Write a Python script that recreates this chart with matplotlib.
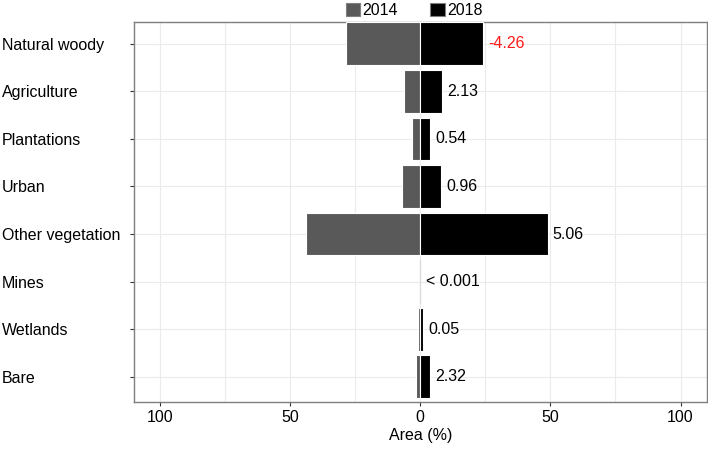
import numpy as np
import matplotlib.pyplot as plt

plt.rcParams['font.family'] = ['Liberation Sans', 'DejaVu Sans']

classes = ['Natural woody', 'Agriculture', 'Plantations', 'Urban',
           'Other vegetation', 'Mines', 'Wetlands', 'Bare']
area_2014 = [28.5, 6.2, 3.3, 7.1, 44.0, 0.1, 1.0, 1.6]
area_2018 = [24.2, 8.3, 3.7, 8.1, 48.9, 0.1, 1.05, 3.9]
change = ['-4.26', '2.13', '0.54', '0.96', '5.06', '< 0.001', '0.05', '2.32']
change_col = ['#ff1a1a', 'k', 'k', 'k', 'k', 'k', 'k', 'k']
xticks = [-100, -50, 0, 50, 100]
xticklabels = ['100', '50', '0', '50', '100']

fs = 11.5
fig = plt.figure(figsize=(7.08, 4.49), dpi=100)
ax = fig.add_axes([0.189, 0.105, 0.809, 0.846])

# tiny mines bars only show as a faint outline in the original
edges = ['#d9d9d9' if c == 'Mines' else 'white' for c in classes]

y = np.arange(len(classes))
ax.barh(y, -np.array(area_2014), height=0.9, color='#595959', edgecolor=edges,
        linewidth=0.8, label='2014', zorder=3)
ax.barh(y, area_2018, height=0.9, color='black', edgecolor=edges,
        linewidth=0.8, label='2018', zorder=3)

for yi, v, t, c in zip(y, area_2018, change, change_col):
    ax.text(v + 2, yi, t, va='center', ha='left', fontsize=fs, color=c)

ax.set_xlim(-110, 110)
ax.set_ylim(7.53, -0.46)
ax.set_xticks(xticks)
ax.set_xticklabels(xticklabels, fontsize=fs)
ax.set_xticks([-75, -25, 25, 75], minor=True)
ax.set_yticks(y)
ax.set_yticklabels(classes, fontsize=fs)
for lab in ax.get_yticklabels():
    lab.set_horizontalalignment('left')
ax.tick_params(axis='y', pad=92, length=3, color='#333333')
ax.tick_params(axis='x', length=3, color='#333333', pad=3)
ax.tick_params(which='minor', length=0)

ax.grid(True, which='both', color='#ebebeb', linewidth=0.8, zorder=0)
ax.set_axisbelow(True)
for s in ax.spines.values():
    s.set_color('#7f7f7f')
    s.set_linewidth(1)

ax.set_xlabel('Area (%)', fontsize=fs, labelpad=2)

leg = fig.legend(loc='upper center', bbox_to_anchor=(0.585, 1.025), ncol=2, frameon=False,
                 fontsize=fs, handlelength=0.9, handleheight=0.9, handletextpad=0.15,
                 columnspacing=2.0)
for h in leg.legend_handles:
    h.set_edgecolor('#7f7f7f')

fig.savefig('out.png', dpi=100)
